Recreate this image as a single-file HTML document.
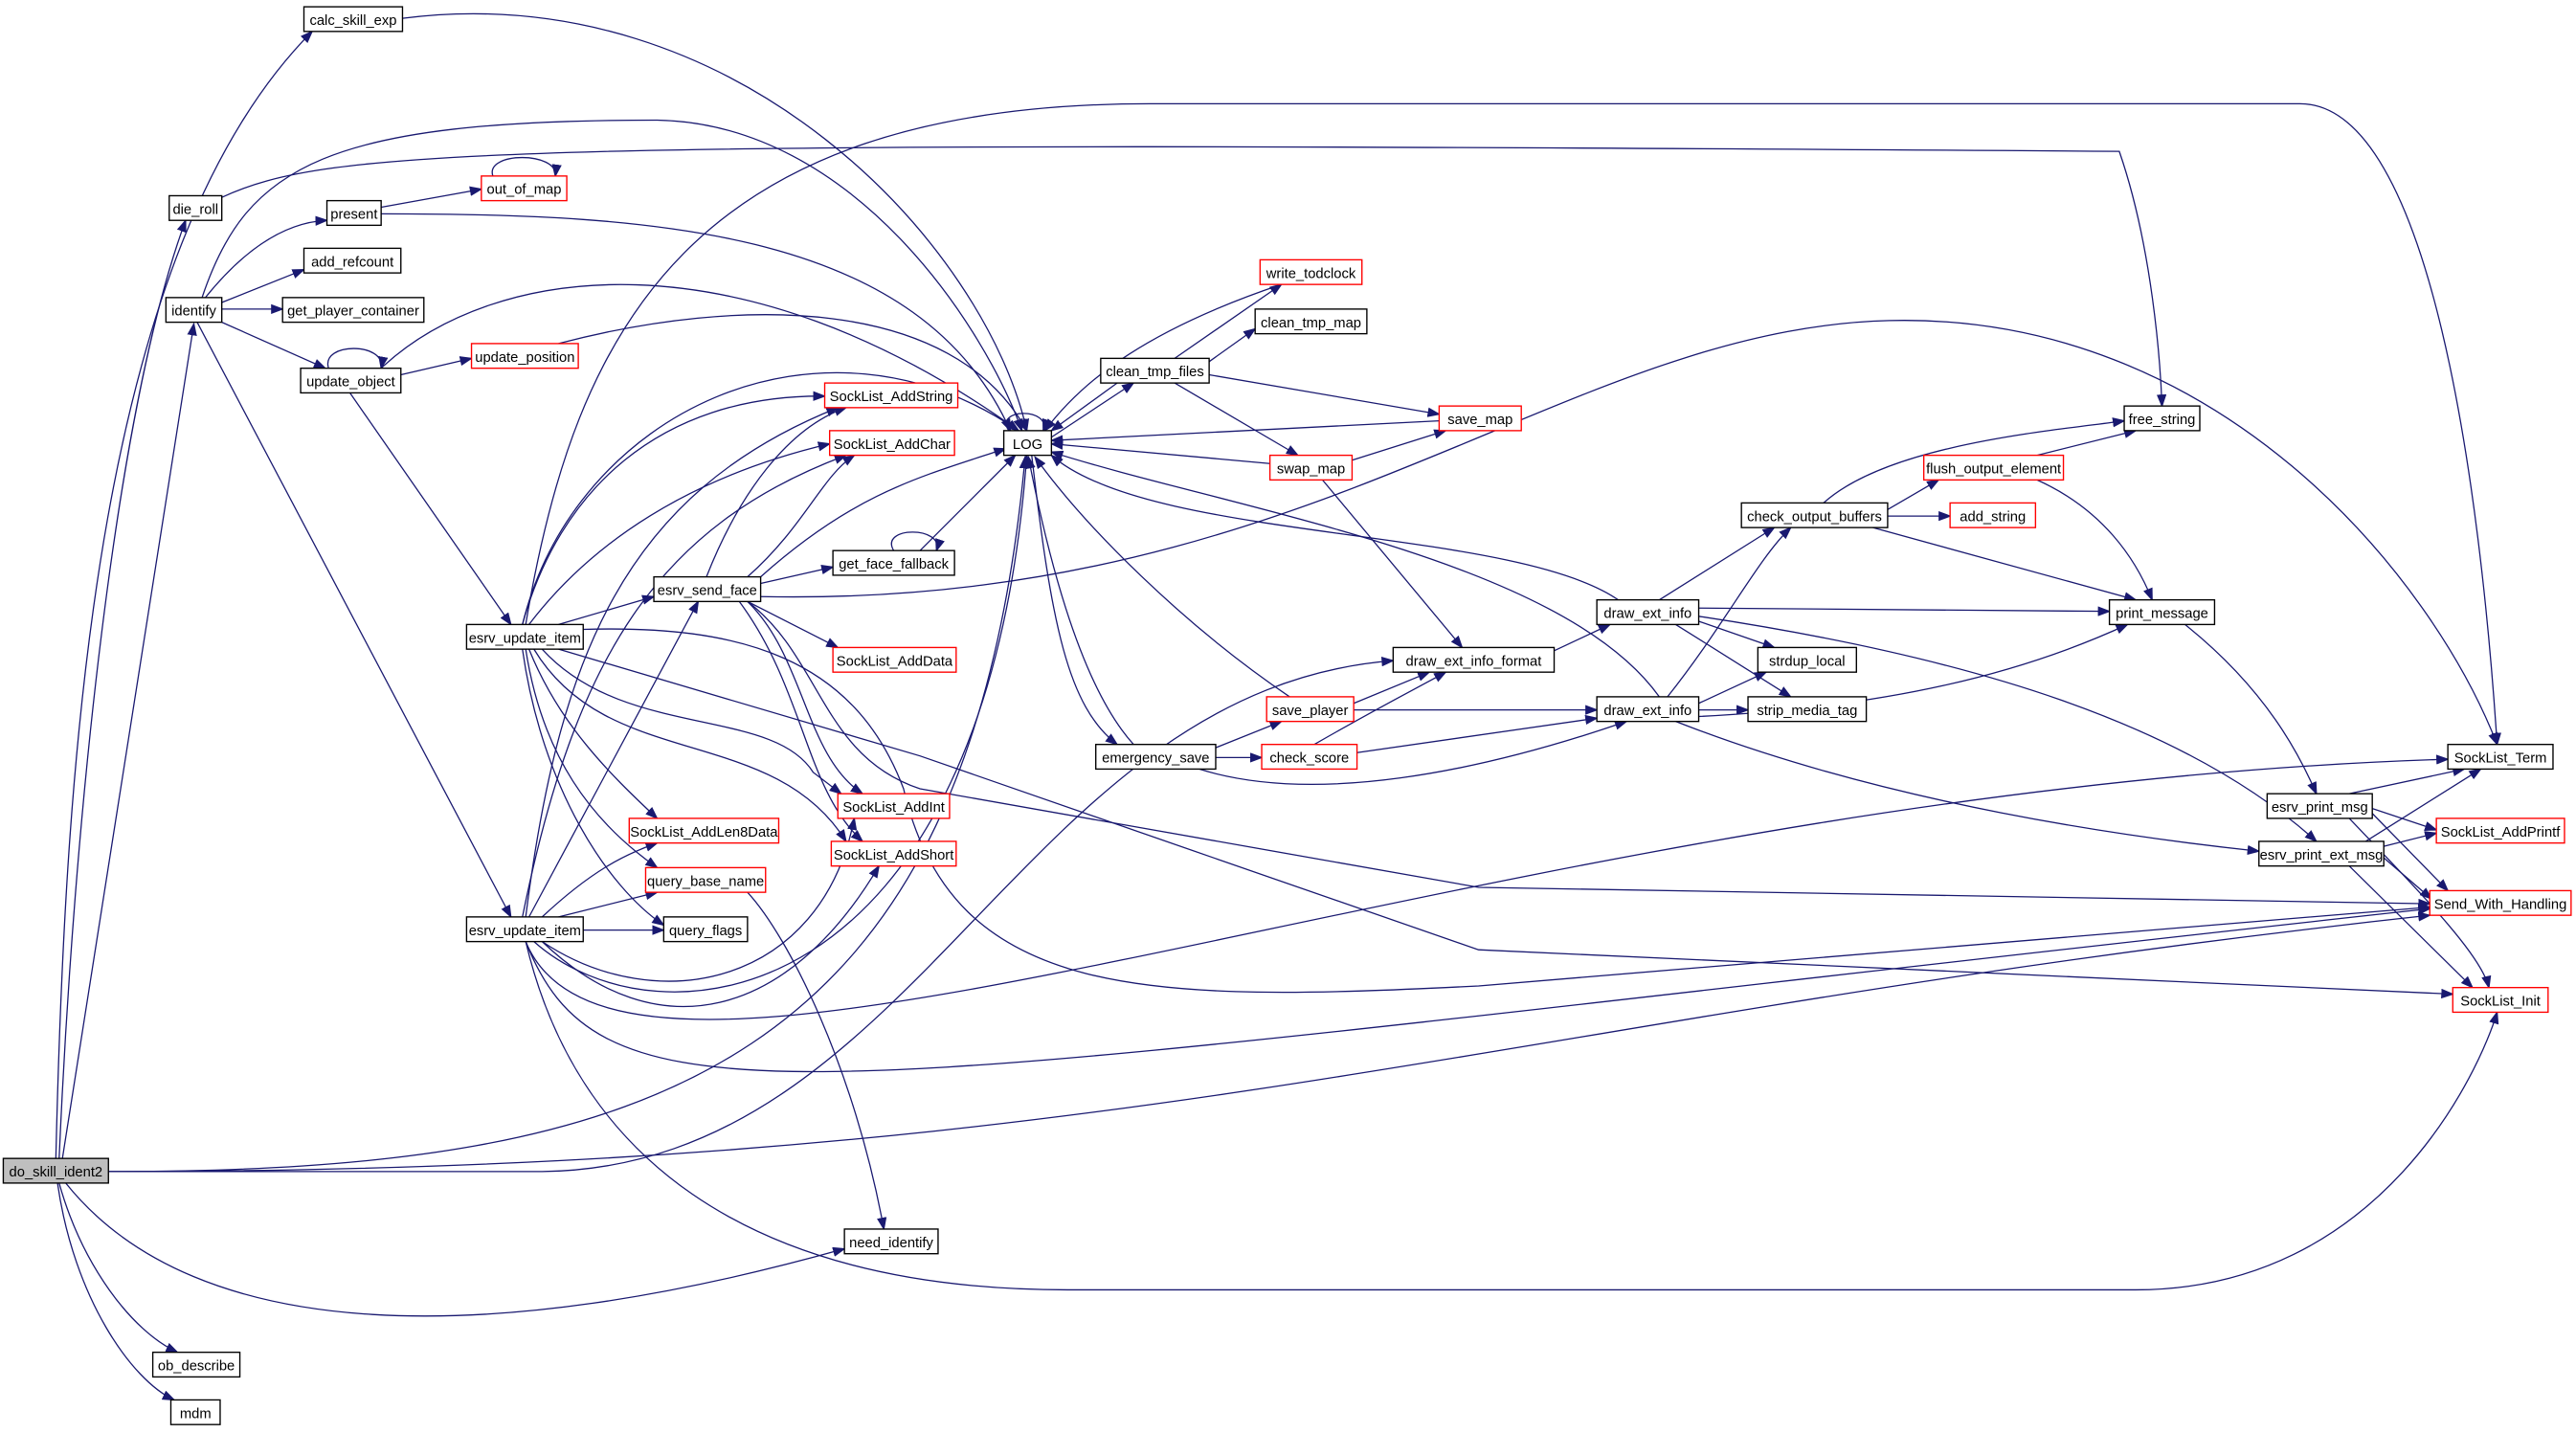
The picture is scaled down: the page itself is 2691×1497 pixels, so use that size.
<!DOCTYPE html>
<html><head><meta charset="utf-8"><style>
html,body{margin:0;padding:0;background:#fff;}
svg{display:block;}
text{font-family:"Liberation Sans",sans-serif;font-size:8.6px;fill:#000;text-anchor:middle;}
.e{fill:none;stroke:#191970;stroke-width:0.75;marker-end:url(#a);}
.n{fill:#fff;stroke:#000;stroke-width:0.8;}
.r{fill:#fff;stroke:#ff0000;stroke-width:0.8;}
</style></head><body>
<svg width="2691" height="1497" viewBox="0 0 1568 872" xmlns="http://www.w3.org/2000/svg">
<defs><marker id="a" markerUnits="userSpaceOnUse" markerWidth="8" markerHeight="6" refX="7" refY="3" orient="auto"><path d="M0,0 L8,3 L0,6 Z" fill="#191970"/></marker></defs>
<g>
<path class="e" d="M34,705 C40,450 60,150 190,19"/>
<path class="e" d="M36,705 C45,500 70,250 113,134"/>
<path class="e" d="M38,705 L118,197"/>
<path class="e" d="M66,713 L330,713 C560,710 620,420 848,402"/>
<path class="e" d="M66,713 C700,713 900,620 1479,557"/>
<path class="e" d="M66,713 C400,713 590,650 624,278"/>
<path class="e" d="M40,720 C120,820 300,820 514,760"/>
<path class="e" d="M36,720 C50,770 80,810 108,823"/>
<path class="e" d="M35,720 C45,790 80,840 106,852"/>
<path class="e" d="M125,181 C150,150 175,135 199,134"/>
<path class="e" d="M135,184 L185,164"/>
<path class="e" d="M135,188 L172,188"/>
<path class="e" d="M135,196 L198,224"/>
<path class="e" d="M123,181 C150,100 200,73 400,73 C520,75 600,200 622,262"/>
<path class="e" d="M120,196 L311,558"/>
<path class="e" d="M135,120 C200,90 300,85 1290,92 C1310,150 1315,220 1316,247"/>
<path class="e" d="M232,126 L293,115"/>
<path class="e" d="M232,130 C400,130 560,140 615,262"/>
<path class="e" d="M300,107 C295,92 340,92 338,107"/>
<path class="e" d="M200,224 C195,208 235,208 232,224"/>
<path class="e" d="M244,228 L287,218"/>
<path class="e" d="M232,224 C300,160 450,140 620,262"/>
<path class="e" d="M213,239 L311,380"/>
<path class="e" d="M340,209 C450,180 580,180 625,262"/>
<path class="e" d="M245,11 C450,-15 600,150 625,262"/>
<path class="e" d="M318,380 C350,250 500,180 620,262"/>
<path class="e" d="M320,380 C350,200 420,63 700,63 L1400,63 C1480,63 1510,300 1520,453"/>
<path class="e" d="M318,380 C340,300 400,240 502,241"/>
<path class="e" d="M322,380 C360,330 420,290 505,270"/>
<path class="e" d="M340,380 L398,363"/>
<path class="e" d="M322,395 C340,440 370,470 400,498"/>
<path class="e" d="M320,395 C330,460 360,500 400,528"/>
<path class="e" d="M318,395 C330,480 370,540 404,563"/>
<path class="e" d="M330,395 C380,450 470,430 495,470 L512,483"/>
<path class="e" d="M325,395 C370,470 470,440 515,512"/>
<path class="e" d="M340,395 L560,460 L900,578 L1493,605"/>
<path class="e" d="M355,383 C450,380 520,400 550,480 C580,610 700,610 900,600 L1479,552"/>
<path class="e" d="M430,351 C450,300 480,260 515,248"/>
<path class="e" d="M455,351 C490,320 500,290 520,277"/>
<path class="e" d="M463,355 L507,345"/>
<path class="e" d="M463,351 C520,300 560,290 612,273"/>
<path class="e" d="M455,366 L510,394"/>
<path class="e" d="M455,366 C490,400 490,460 525,483"/>
<path class="e" d="M450,366 C490,420 490,480 525,512"/>
<path class="e" d="M463,363 C800,370 950,200 1150,195 C1350,190 1480,350 1520,453"/>
<path class="e" d="M455,366 C500,400 500,460 560,480 L900,540 L1479,550"/>
<path class="e" d="M544,335 C535,320 575,320 570,335"/>
<path class="e" d="M560,335 L618,277"/>
<path class="e" d="M322,558 L425,366"/>
<path class="e" d="M355,566 L404,566"/>
<path class="e" d="M340,558 L400,543"/>
<path class="e" d="M330,558 C360,530 380,520 400,513"/>
<path class="e" d="M320,558 C340,400 380,300 510,248"/>
<path class="e" d="M318,558 C350,400 400,320 515,277"/>
<path class="e" d="M325,573 C400,640 600,620 625,277"/>
<path class="e" d="M330,573 C400,620 500,600 520,498"/>
<path class="e" d="M330,573 C400,640 480,620 535,527"/>
<path class="e" d="M320,573 C380,720 900,480 1490,462"/>
<path class="e" d="M320,573 C370,700 500,660 1479,553"/>
<path class="e" d="M320,573 C350,700 450,785 650,785 L1300,785 C1450,785 1510,650 1520,616"/>
<path class="e" d="M455,543 C480,570 520,650 538,748"/>
<path class="e" d="M614,262 C605,248 640,248 635,262"/>
<path class="e" d="M628,277 C640,380 650,430 680,453"/>
<path class="e" d="M690,453 C660,420 640,350 626,278"/>
<path class="e" d="M680,233 L640,262"/>
<path class="e" d="M640,266 L690,233"/>
<path class="e" d="M715,218 L780,173"/>
<path class="e" d="M736,220 L764,200"/>
<path class="e" d="M736,228 L876,252"/>
<path class="e" d="M715,233 L790,277"/>
<path class="e" d="M780,173 C700,200 660,230 636,262"/>
<path class="e" d="M876,256 L640,268"/>
<path class="e" d="M773,282 L640,270"/>
<path class="e" d="M823,280 L880,262"/>
<path class="e" d="M805,292 L890,394"/>
<path class="e" d="M740,455 L780,439"/>
<path class="e" d="M740,461 L768,461"/>
<path class="e" d="M730,468 C800,490 900,470 990,439"/>
<path class="e" d="M785,424 C720,380 660,320 630,278"/>
<path class="e" d="M824,428 L870,409"/>
<path class="e" d="M824,432 L972,432"/>
<path class="e" d="M800,453 C840,430 860,420 880,409"/>
<path class="e" d="M826,458 L972,437"/>
<path class="e" d="M946,396 L980,380"/>
<path class="e" d="M985,365 C920,320 700,330 640,277"/>
<path class="e" d="M1010,365 L1080,321"/>
<path class="e" d="M1034,370 L1284,372"/>
<path class="e" d="M1034,378 L1080,394"/>
<path class="e" d="M1020,380 L1090,424"/>
<path class="e" d="M1034,375 C1200,400 1330,440 1410,512"/>
<path class="e" d="M1010,424 C950,340 750,310 640,275"/>
<path class="e" d="M1015,424 C1050,380 1070,340 1090,321"/>
<path class="e" d="M1034,428 L1075,409"/>
<path class="e" d="M1034,432 L1064,432"/>
<path class="e" d="M1034,436 C1150,430 1230,410 1295,380"/>
<path class="e" d="M1020,439 C1150,490 1300,510 1375,518"/>
<path class="e" d="M1149,310 L1180,292"/>
<path class="e" d="M1149,314 L1187,314"/>
<path class="e" d="M1110,306 C1150,270 1250,262 1293,256"/>
<path class="e" d="M1140,321 L1300,365"/>
<path class="e" d="M1240,277 L1300,262"/>
<path class="e" d="M1240,292 C1280,310 1300,340 1310,365"/>
<path class="e" d="M1330,380 C1380,420 1400,460 1410,483"/>
<path class="e" d="M1430,483 L1500,468"/>
<path class="e" d="M1444,492 L1483,505"/>
<path class="e" d="M1444,495 L1490,542"/>
<path class="e" d="M1430,498 C1470,540 1510,580 1515,601"/>
<path class="e" d="M1440,512 L1510,468"/>
<path class="e" d="M1451,515 L1483,507"/>
<path class="e" d="M1451,522 L1480,547"/>
<path class="e" d="M1430,527 L1505,601"/>
</g>
<g>
<rect class="n" x="185" y="4" width="60" height="15"/><text x="215" y="15">calc_skill_exp</text>
<rect class="n" x="103" y="119" width="32" height="15"/><text x="119" y="130">die_roll</text>
<rect class="n" x="199" y="122" width="33" height="15"/><text x="215.5" y="133">present</text>
<rect class="r" x="293" y="107" width="52" height="15"/><text x="319" y="118">out_of_map</text>
<rect class="n" x="185" y="151" width="59" height="15"/><text x="214.5" y="162">add_refcount</text>
<rect class="n" x="101" y="181" width="34" height="15"/><text x="118" y="192">identify</text>
<rect class="n" x="172" y="181" width="86" height="15"/><text x="215" y="192">get_player_container</text>
<rect class="n" x="183" y="224" width="61" height="15"/><text x="213.5" y="235">update_object</text>
<rect class="r" x="287" y="209" width="65" height="15"/><text x="319.5" y="220">update_position</text>
<rect class="r" x="502" y="233" width="81" height="15"/><text x="542.5" y="244">SockList_AddString</text>
<rect class="r" x="505" y="262" width="76" height="15"/><text x="543" y="273">SockList_AddChar</text>
<rect class="n" x="611" y="262" width="29" height="15"/><text x="625.5" y="273">LOG</text>
<rect class="n" x="507" y="335" width="74" height="15"/><text x="544" y="346">get_face_fallback</text>
<rect class="n" x="398" y="351" width="65" height="15"/><text x="430.5" y="362">esrv_send_face</text>
<rect class="n" x="284" y="380" width="71" height="15"/><text x="319.5" y="391">esrv_update_item</text>
<rect class="r" x="507" y="394" width="75" height="15"/><text x="544.5" y="405">SockList_AddData</text>
<rect class="r" x="510" y="483" width="68" height="15"/><text x="544" y="494">SockList_AddInt</text>
<rect class="r" x="383" y="498" width="91" height="15"/><text x="428.5" y="509">SockList_AddLen8Data</text>
<rect class="r" x="506" y="512" width="76" height="15"/><text x="544" y="523">SockList_AddShort</text>
<rect class="r" x="393" y="528" width="73" height="15"/><text x="429.5" y="539">query_base_name</text>
<rect class="n" x="284" y="558" width="71" height="15"/><text x="319.5" y="569">esrv_update_item</text>
<rect class="n" x="404" y="558" width="51" height="15"/><text x="429.5" y="569">query_flags</text>
<rect x="2" y="705" width="64" height="15" fill="#bfbfbf" stroke="#000" stroke-width="0.8"/><text x="34" y="716">do_skill_ident2</text>
<rect class="n" x="514" y="748" width="57" height="15"/><text x="542.5" y="759">need_identify</text>
<rect class="n" x="93" y="823" width="53" height="15"/><text x="119.5" y="834">ob_describe</text>
<rect class="n" x="104" y="852" width="30" height="15"/><text x="119" y="863">mdm</text>
<rect class="r" x="767" y="158" width="62" height="15"/><text x="798" y="169">write_todclock</text>
<rect class="n" x="764" y="188" width="68" height="15"/><text x="798" y="199">clean_tmp_map</text>
<rect class="n" x="670" y="218" width="66" height="15"/><text x="703" y="229">clean_tmp_files</text>
<rect class="r" x="876" y="247" width="50" height="15"/><text x="901" y="258">save_map</text>
<rect class="r" x="773" y="277" width="50" height="15"/><text x="798" y="288">swap_map</text>
<rect class="n" x="667" y="453" width="73" height="15"/><text x="703.5" y="464">emergency_save</text>
<rect class="r" x="771" y="424" width="53" height="15"/><text x="797.5" y="435">save_player</text>
<rect class="r" x="768" y="453" width="58" height="15"/><text x="797" y="464">check_score</text>
<rect class="n" x="848" y="394" width="98" height="15"/><text x="897" y="405">draw_ext_info_format</text>
<rect class="n" x="972" y="365" width="62" height="15"/><text x="1003" y="376">draw_ext_info</text>
<rect class="n" x="972" y="424" width="62" height="15"/><text x="1003" y="435">draw_ext_info</text>
<rect class="n" x="1070" y="394" width="60" height="15"/><text x="1100" y="405">strdup_local</text>
<rect class="n" x="1064" y="424" width="72" height="15"/><text x="1100" y="435">strip_media_tag</text>
<rect class="n" x="1060" y="306" width="89" height="15"/><text x="1104.5" y="317">check_output_buffers</text>
<rect class="r" x="1171" y="277" width="85" height="15"/><text x="1213.5" y="288">flush_output_element</text>
<rect class="r" x="1187" y="306" width="52" height="15"/><text x="1213" y="317">add_string</text>
<rect class="n" x="1293" y="247" width="46" height="15"/><text x="1316" y="258">free_string</text>
<rect class="n" x="1284" y="365" width="64" height="15"/><text x="1316" y="376">print_message</text>
<rect class="n" x="1380" y="483" width="64" height="15"/><text x="1412" y="494">esrv_print_msg</text>
<rect class="n" x="1375" y="512" width="76" height="15"/><text x="1413" y="523">esrv_print_ext_msg</text>
<rect class="n" x="1490" y="453" width="64" height="15"/><text x="1522" y="464">SockList_Term</text>
<rect class="r" x="1483" y="498" width="78" height="15"/><text x="1522" y="509">SockList_AddPrintf</text>
<rect class="r" x="1479" y="542" width="86" height="15"/><text x="1522" y="553">Send_With_Handling</text>
<rect class="r" x="1493" y="601" width="58" height="15"/><text x="1522" y="612">SockList_Init</text>
</g>
</svg>
</body></html>
